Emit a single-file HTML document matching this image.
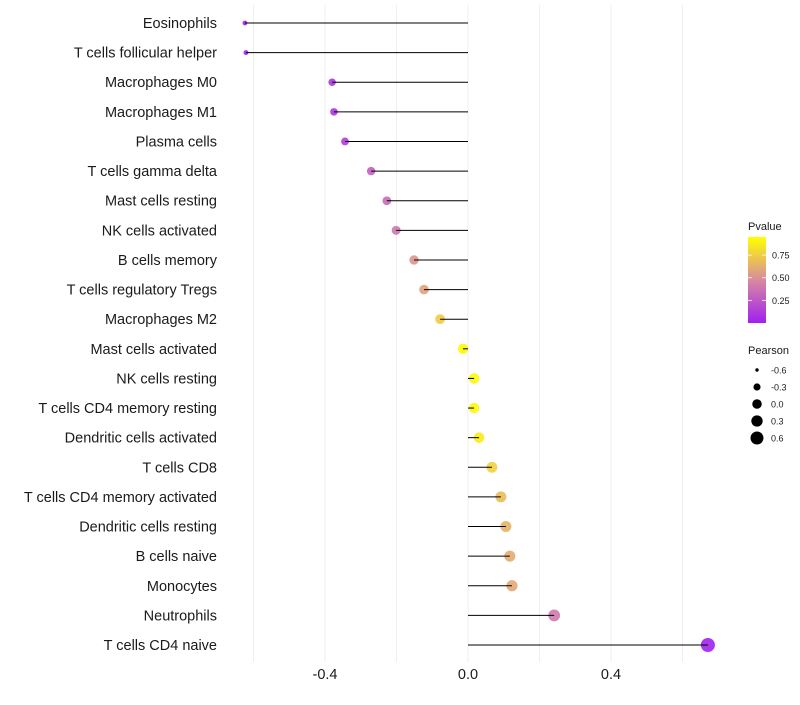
<!DOCTYPE html>
<html><head><meta charset="utf-8"><style>
body{margin:0;background:#fff;font-family:"Liberation Sans",sans-serif}
</style></head><body>
<svg id="chart" width="800" height="700" xmlns="http://www.w3.org/2000/svg"></svg>
<script>
const categories=["Eosinophils","T cells follicular helper","Macrophages M0","Macrophages M1","Plasma cells","T cells gamma delta","Mast cells resting","NK cells activated","B cells memory","T cells regulatory  Tregs ","Macrophages M2","Mast cells activated","NK cells resting","T cells CD4 memory resting","Dendritic cells activated","T cells CD8","T cells CD4 memory activated","Dendritic cells resting","B cells naive","Monocytes","Neutrophils","T cells CD4 naive"];
const pearson=[-0.624,-0.621,-0.380,-0.375,-0.344,-0.271,-0.227,-0.201,-0.151,-0.123,-0.078,-0.014,0.017,0.017,0.031,0.067,0.092,0.106,0.117,0.123,0.241,0.671];
const pvalues=[0.01,0.01,0.1,0.11,0.14,0.3,0.36,0.4,0.55,0.6,0.78,0.98,0.97,0.97,0.92,0.8,0.72,0.68,0.64,0.63,0.42,0.01];
const xTicks=[-0.4,0.0,0.4];
const xTickLabels=["-0.4","0.0","0.4"];
const xGrid=[-0.6,-0.2,0.2,0.6];
const pTicks=[0.25,0.5,0.75];
const pTickLabels=["0.25","0.50","0.75"];
const sizeBreaks=[-0.6,-0.3,0.0,0.3,0.6];
const sizeLabels=["-0.6","-0.3","0.0","0.3","0.6"];

const NS="http://www.w3.org/2000/svg";
const svg=document.getElementById('chart');
const xS=v=>468+v*357.5;
const yS=i=>23+i*(622/21);
const rS=v=>Math.sqrt(Math.max(1,27+33.9*v));
const rL=v=>Math.sqrt(Math.max(1,22.5+32.6*v));
function lerp(a,b,t){return a+(b-a)*t}
function col(p){
  const stops=[[0,[160,32,240]],[0.5,[216,138,160]],[1,[255,255,0]]];
  let a=stops[0],b=stops[1];
  if(p>0.5){a=stops[1];b=stops[2];}
  const t=(p-a[0])/(b[0]-a[0]);
  return `rgb(${a[1].map((c,k)=>Math.round(lerp(c,b[1][k],t))).join(',')})`;
}
function mk(tag,attrs,parent){const e=document.createElementNS(NS,tag);for(const k in attrs)e.setAttribute(k,attrs[k]);(parent||svg).appendChild(e);return e;}

[...xGrid,...xTicks].forEach(v=>{
  const l=mk('line',{x1:xS(v),x2:xS(v),y1:5,y2:662,stroke:'#efefef','stroke-width':1});
  
  
});
categories.forEach((c,i)=>{
  const y=yS(i);
  const t=mk('text',{x:217,y:y+5,'text-anchor':'end','font-size':14.5,fill:'#1a1a1a'});
  t.textContent=c;
  
  
  const p=mk('circle',{cx:xS(pearson[i]),cy:y,r:rS(pearson[i]),fill:col(pvalues[i]),'fill-opacity':0.9});
  
  
  const s=mk('line',{x1:xS(0),x2:xS(pearson[i]),y1:y,y2:y,stroke:'#000','stroke-width':1});
  
  
});
xTicks.forEach((v,i)=>{
  const t=mk('text',{x:xS(v),y:679,'text-anchor':'middle','font-size':14.5,fill:'#1a1a1a'});
  t.textContent=xTickLabels[i];
  
  
});
const lt=mk('text',{x:748,y:230,'font-size':11,fill:'#1a1a1a'});lt.textContent='Pvalue';


const defs=mk('defs',{});
const gr=mk('linearGradient',{id:'pg',x1:0,y1:1,x2:0,y2:0},defs);
[0,0.25,0.5,0.75,1].forEach(o=>mk('stop',{offset:o,'stop-color':col(o)},gr));
const bar=mk('rect',{x:748,y:237,width:18,height:86,fill:'url(#pg)'});


pTicks.forEach((p,i)=>{
  const y=323-p*(86/0.95);
  mk('line',{x1:748,x2:752,y1:y,y2:y,stroke:'#fff','stroke-width':0.8});
  mk('line',{x1:762,x2:766,y1:y,y2:y,stroke:'#fff','stroke-width':0.8});
  const t=mk('text',{x:772,y:y+3.5,'font-size':9,fill:'#1a1a1a'});t.textContent=pTickLabels[i];
  
  
});
const st=mk('text',{x:748,y:354,'font-size':11,fill:'#1a1a1a'});st.textContent='Pearson';


sizeBreaks.forEach((v,i)=>{
  const y=370+i*17;
  const c=mk('circle',{cx:757,cy:y,r:rL(v),fill:'#000'});
  
  
  const t=mk('text',{x:771,y:y+3.5,'font-size':9,fill:'#1a1a1a'});t.textContent=sizeLabels[i];
  
  
});
</script>
</body></html>
